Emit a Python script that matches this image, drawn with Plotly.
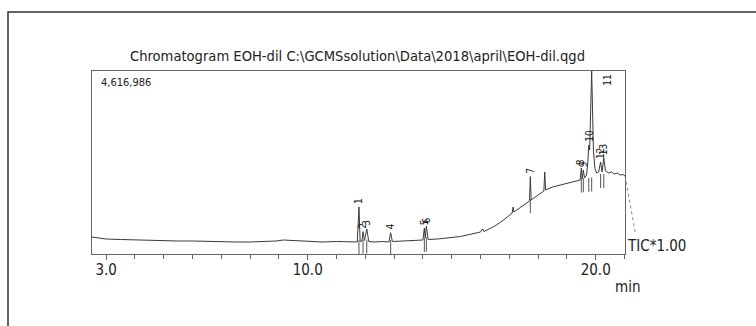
import plotly.graph_objects as go

W, H = 756, 326

# ---- data (time in min, intensity in counts) ----
time_min = [2.51, 2.7, 3.0, 3.5, 4.0, 4.5, 5.0, 5.5, 6.0, 6.5, 7.0, 7.5, 8.0, 8.5, 8.9,
            9.15, 9.4, 9.7, 10.0, 10.5, 11.0, 11.4, 11.72, 11.78, 11.82, 11.88, 11.92,
            11.97, 12.05, 12.12, 12.3, 12.6, 12.82, 12.88, 12.94, 13.3, 13.7, 14.0,
            14.05, 14.08, 14.12, 14.18, 14.5, 14.9, 15.3, 15.7, 16.0, 16.08, 16.12,
            16.5, 16.8, 17.1, 17.13, 17.16, 17.4, 17.7, 17.73, 17.76, 18.0, 18.2,
            18.23, 18.26, 18.5, 18.8, 19.1, 19.3, 19.46, 19.5, 19.53, 19.57, 19.61,
            19.68, 19.72, 19.76, 19.79, 19.86, 19.92, 19.97, 20.03, 20.1, 20.17,
            20.22, 20.28, 20.34, 20.45, 20.55, 20.65, 20.75, 20.85, 20.95, 21.02]
intensity = [429000, 404000, 378000, 366000, 353000, 353000, 341000, 328000, 328000,
             315000, 315000, 303000, 303000, 315000, 328000, 353000, 341000, 328000,
             315000, 303000, 315000, 303000, 303000, 1186000, 315000, 328000, 563000,
             341000, 631000, 315000, 303000, 315000, 303000, 537000, 315000, 328000,
             341000, 353000, 656000, 404000, 706000, 366000, 378000, 404000, 441000,
             505000, 555000, 631000, 568000, 706000, 858000, 1034000, 1186000, 1060000,
             1186000, 1337000, 1955000, 1362000, 1489000, 1589000, 2069000, 1615000,
             1690000, 1741000, 1791000, 1842000, 1867000, 2170000, 1892000, 2119000,
             1917000, 1993000, 2245000, 2750000, 2624000, 4616986, 2624000, 2170000,
             2044000, 2069000, 2321000, 2069000, 2422000, 2094000, 2044000, 2069000,
             2018000, 2044000, 1993000, 2006000, 1968000]

tail_time = [21.02, 21.37]
tail_intensity = [1968000, 555000]

peak_id = [1, 2, 3, 4, 5, 6, 7, 8, 9, 10, 11, 12, 13]
peak_time = [11.78, 11.92, 12.05, 12.88, 14.05, 14.12, 17.73, 19.50, 19.57, 19.76, 19.86, 20.17, 20.28]
peak_height = [1186000, 563000, 631000, 537000, 656000, 706000, 1955000, 2170000, 2119000,
               2750000, 4616986, 2321000, 2422000]
peak_base = [303000, 315000, 315000, 303000, 353000, 366000, 1337000, 1850000, 1860000,
             1870000, 1880000, 1968000, 1968000]

y_max = 4616986
tick_vals = [3, 10, 20]
tick_text = ["3.0", "10.0", "20.0"]
title = "Chromatogram EOH-dil C:\\GCMSsolution\\Data\\2018\\april\\EOH-dil.qgd"

# ---- layout geometry (pixels) ----
PX_L, PX_R_FRAME, PX_R_DATA = 92, 625, 645
PX_TOP, PX_BOT = 71, 254
PX_PER_MIN = 28.8
X0 = 2.51
X1_FRAME = X0 + (PX_R_FRAME - PX_L) / PX_PER_MIN
X1_DATA = X0 + (PX_R_DATA - PX_L) / PX_PER_MIN
Y_PER_PX = y_max / (PX_BOT - PX_TOP)

FONT = "Liberation Sans Narrow, DejaVu Sans Condensed, Arial Narrow, sans-serif"
LINE = "#3a3a3a"

def px(v):
    return v / W

def py(v):
    return 1 - v / H

fig = go.Figure()

fig.add_trace(go.Scatter(x=time_min, y=intensity, mode="lines",
                         line=dict(color=LINE, width=1), showlegend=False,
                         hoverinfo="skip", cliponaxis=False))
fig.add_trace(go.Scatter(x=tail_time, y=tail_intensity, mode="lines",
                         line=dict(color="#888", width=1, dash="dot"),
                         showlegend=False, hoverinfo="skip"))
fig.add_trace(go.Scatter(x=peak_time, y=[b - 5 * Y_PER_PX for b in peak_base],
                         mode="markers",
                         marker=dict(symbol="line-ns", size=10,
                                     line=dict(color="#555", width=1)),
                         showlegend=False, hoverinfo="skip", cliponaxis=False))
# frame subplot
fig.add_trace(go.Scatter(x=[], y=[], xaxis="x2", yaxis="y2", showlegend=False))

annotations = []
for pid, t, h in zip(peak_id, peak_time, peak_height):
    if h >= y_max:
        annotations.append(dict(x=t, y=h, xref="x", yref="y", text=str(pid),
                                textangle=-90, showarrow=False, xanchor="left",
                                yanchor="top", xshift=8, yshift=-2,
                                font=dict(size=10, color="#111", family=FONT)))
    else:
        annotations.append(dict(x=t, y=h, xref="x", yref="y", text=str(pid),
                                textangle=-90, showarrow=False, xanchor="center",
                                yanchor="bottom", yshift=1,
                                font=dict(size=10, color="#111", family=FONT)))

annotations += [
    dict(x=px(357), y=py(55), xref="paper", yref="paper", text=title, showarrow=False,
         xanchor="center", yanchor="middle", font=dict(size=14.6, color="#222", family=FONT)),
    dict(x=px(99), y=py(83), xref="paper", yref="paper", text="4,616,986", showarrow=False,
         xanchor="left", yanchor="middle", font=dict(size=11, color="#222", family=FONT)),
    dict(x=px(625), y=py(246), xref="paper", yref="paper", text="TIC*1.00", showarrow=False,
         xanchor="left", yanchor="middle", font=dict(size=15, color="#222", family=FONT)),
    dict(x=px(613), y=py(287), xref="paper", yref="paper", text="min", showarrow=False,
         xanchor="left", yanchor="middle", font=dict(size=15, color="#222", family=FONT)),
]

fig.update_layout(
    width=W, height=H,
    margin=dict(l=0, r=0, t=0, b=0),
    paper_bgcolor="white", plot_bgcolor="rgba(0,0,0,0)",
    font=dict(family=FONT, color="#222"),
    xaxis=dict(domain=[px(PX_L), px(PX_R_DATA)], range=[X0, X1_DATA], visible=False,
               anchor="y"),
    yaxis=dict(domain=[py(PX_BOT), py(PX_TOP)], range=[0, y_max], visible=False,
               anchor="x"),
    xaxis2=dict(domain=[px(PX_L), px(PX_R_FRAME)], range=[X0, X1_FRAME], anchor="y2",
                showline=True, mirror=True, linecolor="#666", linewidth=1,
                ticks="outside", ticklen=5, tickcolor="#666", tickvals=tick_vals,
                ticktext=tick_text, tickfont=dict(size=15, color="#222", family=FONT),
                showgrid=False, zeroline=False, ticklabelstandoff=-3,
                minor=dict(ticks="outside", dtick=1, tick0=3, ticklen=4,
                           tickcolor="#666", showgrid=False)),
    yaxis2=dict(domain=[py(PX_BOT), py(PX_TOP)], range=[0, 1], anchor="x2",
                showline=True, mirror=True, linecolor="#666", linewidth=1,
                ticks="", showticklabels=False, showgrid=False, zeroline=False),
    annotations=annotations,
    shapes=[dict(type="rect", xref="paper", yref="paper", x0=px(8), x1=1.05,
                 y0=-0.05, y1=py(12), line=dict(color="#333", width=1.5))],
)

fig.write_html("out.html")
